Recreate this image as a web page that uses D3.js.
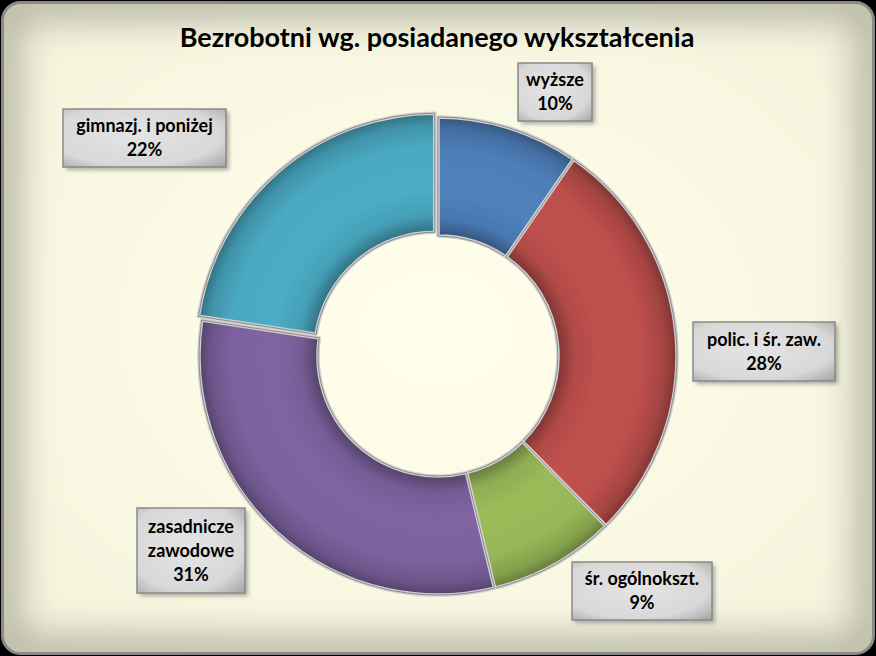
<!DOCTYPE html>
<html><head><meta charset="utf-8">
<script src="https://cdn.jsdelivr.net/npm/d3@7"></script>
<style>html,body{margin:0;padding:0;background:#000;}svg{display:block;}</style>
</head><body>
<svg id="chart" width="876" height="656"></svg>
<script>
const title = "Bezrobotni wg. posiadanego wykształcenia";
const categories = ["wyższe", "polic. i śr. zaw.", "śr. ogólnokszt.", "zasadnicze zawodowe", "gimnazj. i poniżej"];
const labelLines = [["wyższe"], ["polic. i śr. zaw."], ["śr. ogólnokszt."], ["zasadnicze", "zawodowe"], ["gimnazj. i poniżej"]];
const values = [9.6, 28.0, 8.6, 31.2, 22.6];
const pctLabels = ["10%", "28%", "9%", "31%", "22%"];
const colors = ["#4f81bd", "#c0504d", "#9bbb59", "#8064a2", "#4bacc6"];

const W = 876, H = 656;
const svg = d3.select("#chart");
const defs = svg.append("defs");

// background
const bgClip = defs.append("clipPath").attr("id", "bgclip");
bgClip.append("rect").attr("x", 2).attr("y", 2).attr("width", W - 4).attr("height", H - 4).attr("rx", 18);
const blur = defs.append("filter").attr("id", "blurEdge").attr("x", "-10%").attr("y", "-10%").attr("width", "120%").attr("height", "120%");
blur.append("feGaussianBlur").attr("stdDeviation", 18);
const bgGrad = defs.append("radialGradient").attr("id", "bgGrad").attr("cx", "50%").attr("cy", "50%").attr("r", "70%");
bgGrad.append("stop").attr("offset", "0%").attr("stop-color", "#ffffec");
bgGrad.append("stop").attr("offset", "100%").attr("stop-color", "#f4f4dc");

svg.append("rect").attr("x", 2).attr("y", 2).attr("width", W - 4).attr("height", H - 4).attr("rx", 18)
  .attr("fill", "url(#bgGrad)");
svg.append("g").attr("clip-path", "url(#bgclip)")
  .append("rect").attr("x", 2).attr("y", 2).attr("width", W - 4).attr("height", H - 4).attr("rx", 18)
  .attr("fill", "none").attr("stroke", "#86867a").attr("stroke-width", 36).attr("opacity", 0.6)
  .attr("filter", "url(#blurEdge)");
svg.append("rect").attr("x", 2.5).attr("y", 2.5).attr("width", W - 5).attr("height", H - 5).attr("rx", 18)
  .attr("fill", "none").attr("stroke", "#8a8a8a").attr("stroke-width", 3);

// title
svg.append("text").attr("x", 437).attr("y", 47).attr("text-anchor", "middle")
  .attr("font-family", "Lato, 'Open Sans', sans-serif").attr("font-weight", "bold").attr("font-size", 27)
  .attr("fill", "#000").text(title);

// donut
const cx = 438, cy = 356, R = 239, r0 = 120;
const pie = d3.pie().sort(null).value(d => d)(values);
const arc = d3.arc().innerRadius(r0).outerRadius(R);

const ringGrad = defs.append("radialGradient").attr("id", "ringGrad")
  .attr("gradientUnits", "userSpaceOnUse").attr("cx", 0).attr("cy", 0).attr("r", R);
[[r0 / R, 0.35], [r0 / R + 0.07, 0.08], [0.68, 0], [0.86, 0.02], [0.95, 0.15], [1, 0.35]].forEach(([o, a]) => {
  ringGrad.append("stop").attr("offset", o).attr("stop-color", "#000").attr("stop-opacity", a);
});

const explode = [0, 0, 0, 0, 5];
const g = svg.append("g").attr("transform", `translate(${cx},${cy})`);
const sl = g.selectAll("g.slice").data(pie).enter().append("g")
  .attr("transform", (d, i) => {
    const a = (d.startAngle + d.endAngle) / 2;
    return `translate(${Math.sin(a) * explode[i]},${-Math.cos(a) * explode[i]})`;
  });
sl.append("path").attr("d", arc).attr("fill", (d, i) => colors[i]);
sl.append("path").attr("d", arc).attr("fill", "url(#ringGrad)");
sl.append("path").attr("d", arc).attr("fill", "none").attr("stroke", "#d0d0d0").attr("stroke-width", 3.5).attr("stroke-linejoin", "round");
sl.append("path").attr("d", arc).attr("fill", "none").attr("stroke", "#8c8c8c").attr("stroke-width", 1).attr("stroke-linejoin", "round");

// labels
const boxGrad = defs.append("radialGradient").attr("id", "boxGrad").attr("cx", "45%").attr("cy", "45%").attr("r", "75%");
boxGrad.append("stop").attr("offset", "0%").attr("stop-color", "#e4e4e4");
boxGrad.append("stop").attr("offset", "70%").attr("stop-color", "#d8d8d8");
boxGrad.append("stop").attr("offset", "100%").attr("stop-color", "#a8a8a8");
const shadow = defs.append("filter").attr("id", "boxShadow").attr("x", "-20%").attr("y", "-20%").attr("width", "150%").attr("height", "150%");
shadow.append("feGaussianBlur").attr("stdDeviation", 2);

// box layout (layout, not data)
const boxLayout = [
  { x: 518, y: 63, w: 74, h: 58 },
  { x: 693, y: 322, w: 142, h: 59 },
  { x: 572, y: 562, w: 140, h: 58 },
  { x: 137, y: 508, w: 108, h: 85 },
  { x: 63, y: 109, w: 163, h: 58 }
];
const lab = svg.append("g").selectAll("g").data(pie).enter().append("g");
lab.append("rect").attr("x", (d, i) => boxLayout[i].x + 3).attr("y", (d, i) => boxLayout[i].y + 3)
  .attr("width", (d, i) => boxLayout[i].w).attr("height", (d, i) => boxLayout[i].h)
  .attr("fill", "#777").attr("opacity", 0.6).attr("filter", "url(#boxShadow)");
lab.append("rect").attr("x", (d, i) => boxLayout[i].x).attr("y", (d, i) => boxLayout[i].y)
  .attr("width", (d, i) => boxLayout[i].w).attr("height", (d, i) => boxLayout[i].h)
  .attr("fill", "url(#boxGrad)").attr("stroke", "#8a8a8a").attr("stroke-width", 1.5);
lab.each(function (d, i) {
  const b = boxLayout[i];
  const lines = labelLines[i].concat([pctLabels[i]]);
  const lh = 24;
  const startY = b.y + b.h / 2 - (lines.length - 1) * lh / 2 + 6;
  const t = d3.select(this).append("text").attr("text-anchor", "middle")
    .attr("font-family", "Lato, 'Open Sans', sans-serif").attr("font-weight", "bold").attr("font-size", 18).attr("fill", "#000");
  lines.forEach((ln, k) => {
    t.append("tspan").attr("x", b.x + b.w / 2).attr("y", startY + k * lh).text(ln);
  });
});
</script>
</body></html>
